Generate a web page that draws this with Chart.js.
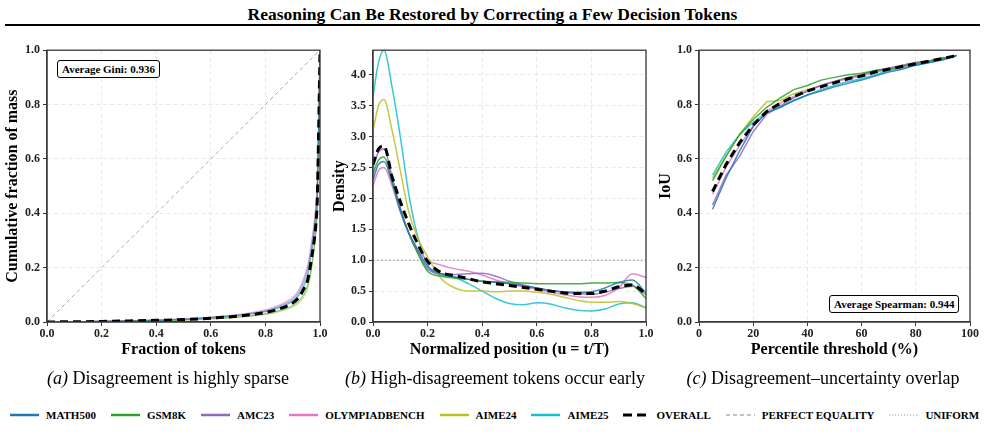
<!DOCTYPE html>
<html><head><meta charset="utf-8">
<script src="https://cdn.jsdelivr.net/npm/chart.js@4.4.1/dist/chart.umd.min.js"></script>
<style>
html,body{margin:0;padding:0;background:#fff;}
body{width:985px;height:448px;position:relative;overflow:hidden;font-family:'Liberation Serif','Times New Roman',serif;color:#000;}
#title{position:absolute;left:0;top:4px;width:985px;text-align:center;font-weight:bold;font-size:17.5px;line-height:20px;}
#rule{position:absolute;left:5px;top:24px;width:975px;height:2px;background:#000;}
canvas{position:absolute;}
.cap{position:absolute;top:368px;font-size:18px;line-height:21px;white-space:nowrap;transform:translateX(-50%);}
.cap i{font-style:italic;}
.box{position:absolute;border:1px solid #000;border-radius:3px;background:#fff;font-weight:bold;font-size:11px;line-height:14px;padding:1px 4px;white-space:nowrap;}
#legend{position:absolute;left:10px;top:407px;display:flex;align-items:center;white-space:nowrap;font-weight:bold;font-size:11px;line-height:16px;}
#legend .it{display:flex;align-items:center;margin-right:15px;}
#legend svg{margin-right:7px;}
</style></head>
<body>
<div id="title">Reasoning Can Be Restored by Correcting a Few Decision Tokens</div>
<div id="rule"></div>
<canvas id="cA" width="340" height="330" style="left:0;top:40px"></canvas>
<canvas id="cB" width="340" height="330" style="left:322px;top:40px"></canvas>
<canvas id="cC" width="335" height="330" style="left:650px;top:40px"></canvas>
<div class="box" style="left:57px;top:60px">Average Gini: 0.936</div>
<div class="box" style="left:829px;top:295px">Average Spearman: 0.944</div>
<div class="cap" style="left:168px"><i>(a)</i> Disagreement is highly sparse</div>
<div class="cap" style="left:495px"><i>(b)</i> High-disagreement tokens occur early</div>
<div class="cap" style="left:823px"><i>(c)</i> Disagreement–uncertainty overlap</div>
<div id="legend"></div>
<script>
// ---------- data ----------
const seriesNames = ['MATH500','GSM8K','AMC23','OLYMPIADBENCH','AIME24','AIME25'];
const seriesRGB = ['31,119,180','44,160,44','148,103,189','227,119,194','188,189,34','23,190,207'];
const overallName = 'OVERALL';
const equalityName = 'PERFECT EQUALITY';
const uniformName = 'UNIFORM';

// (a) Lorenz curves
const lorenzX = [0,0.1,0.2,0.3,0.4,0.5,0.6,0.7,0.8,0.85,0.9,0.92,0.94,0.955,0.97,0.98,0.985,0.99,0.995,1.0];
const lorenzMath500 = [0,0.001,0.002,0.004,0.006,0.010,0.015,0.024,0.038,0.052,0.076,0.095,0.13,0.17,0.26,0.33,0.38,0.46,0.71,1.0];
const lorenzGsm8k   = [0,0.001,0.002,0.003,0.005,0.008,0.012,0.019,0.030,0.042,0.060,0.075,0.10,0.135,0.21,0.29,0.34,0.43,0.68,1.0];
const lorenzAmc23   = [0,0.001,0.003,0.005,0.007,0.011,0.017,0.026,0.042,0.058,0.085,0.108,0.15,0.20,0.29,0.37,0.42,0.50,0.74,1.0];
const lorenzOlymp   = [0,0.001,0.003,0.005,0.008,0.012,0.018,0.028,0.045,0.062,0.092,0.115,0.16,0.21,0.30,0.38,0.43,0.52,0.75,1.0];
const lorenzAime24  = [0,0.001,0.002,0.003,0.005,0.007,0.011,0.017,0.028,0.038,0.055,0.068,0.092,0.125,0.20,0.28,0.33,0.42,0.67,1.0];
const lorenzAime25  = [0,0.001,0.002,0.004,0.007,0.010,0.016,0.025,0.040,0.055,0.080,0.100,0.14,0.185,0.275,0.35,0.40,0.48,0.72,1.0];
const lorenzOverall = [0,0.001,0.002,0.004,0.006,0.009,0.014,0.022,0.035,0.048,0.070,0.088,0.12,0.155,0.24,0.31,0.36,0.45,0.70,1.0];
const equalityX = [0,1];
const equalityY = [0,1];

// (b) position density
const densityX = [0,0.02,0.04,0.07,0.1,0.13,0.16,0.2,0.25,0.3,0.35,0.4,0.45,0.5,0.55,0.6,0.65,0.7,0.75,0.8,0.85,0.9,0.95,1.0];
const densMath500 = [2.3,2.55,2.6,2.25,1.8,1.45,1.2,0.9,0.78,0.73,0.69,0.66,0.64,0.62,0.59,0.55,0.51,0.49,0.48,0.49,0.55,0.64,0.68,0.47];
const densGsm8k   = [2.4,2.62,2.67,2.3,1.82,1.45,1.15,0.82,0.74,0.71,0.69,0.66,0.65,0.64,0.63,0.62,0.62,0.62,0.62,0.63,0.63,0.64,0.6,0.38];
const densAmc23   = [2.5,2.75,2.8,2.35,1.85,1.45,1.15,0.86,0.78,0.77,0.78,0.79,0.74,0.66,0.6,0.55,0.51,0.48,0.46,0.45,0.48,0.54,0.58,0.44];
const densOlymp   = [2.2,2.45,2.5,2.2,1.78,1.45,1.2,1.0,0.92,0.86,0.82,0.76,0.68,0.62,0.57,0.53,0.48,0.44,0.41,0.4,0.43,0.55,0.78,0.72];
const densAime24  = [3.1,3.5,3.6,3.1,2.45,1.8,1.4,1.05,0.7,0.55,0.5,0.5,0.49,0.5,0.5,0.48,0.45,0.4,0.35,0.32,0.32,0.33,0.3,0.23];
const densAime25  = [3.65,4.2,4.4,3.8,3.0,2.1,1.45,0.92,0.76,0.72,0.62,0.5,0.38,0.3,0.28,0.31,0.29,0.23,0.19,0.18,0.21,0.29,0.31,0.23];
const densOverall = [2.55,2.8,2.85,2.35,1.95,1.6,1.3,0.98,0.8,0.75,0.7,0.65,0.62,0.59,0.56,0.53,0.5,0.47,0.46,0.46,0.5,0.57,0.6,0.45];
const uniformX = [0,1];
const uniformY = [1,1];

// (c) IoU vs percentile threshold
const thresholdX = [5,10,15,20,25,30,35,40,45,50,55,60,65,70,75,80,85,90,95];
const iouMath500 = [0.415,0.53,0.63,0.72,0.77,0.79,0.815,0.835,0.85,0.865,0.878,0.89,0.905,0.92,0.93,0.945,0.955,0.965,0.98];
const iouGsm8k   = [0.52,0.61,0.69,0.745,0.79,0.825,0.855,0.87,0.89,0.9,0.91,0.915,0.925,0.93,0.94,0.95,0.96,0.97,0.98];
const iouAmc23   = [0.43,0.54,0.61,0.70,0.765,0.795,0.825,0.85,0.87,0.885,0.9,0.91,0.925,0.935,0.945,0.955,0.96,0.97,0.98];
const iouOlymp   = [0.47,0.57,0.65,0.72,0.775,0.805,0.83,0.85,0.87,0.885,0.895,0.905,0.92,0.93,0.94,0.95,0.96,0.97,0.98];
const iouAime24  = [0.53,0.61,0.69,0.755,0.81,0.815,0.84,0.855,0.87,0.885,0.9,0.91,0.92,0.93,0.945,0.955,0.96,0.97,0.98];
const iouAime25  = [0.54,0.625,0.69,0.735,0.77,0.79,0.815,0.835,0.855,0.87,0.885,0.895,0.91,0.925,0.935,0.945,0.955,0.965,0.98];
const iouOverall = [0.48,0.58,0.66,0.725,0.775,0.805,0.83,0.85,0.865,0.88,0.895,0.905,0.92,0.93,0.94,0.95,0.96,0.97,0.98];

// tick labels
const ticksUnit = [0,0.2,0.4,0.6,0.8,1.0];
const ticksDensity = [0,0.5,1.0,1.5,2.0,2.5,3.0,3.5,4.0];
const ticksPercent = [0,20,40,60,80,100];

// ---------- chart setup ----------
Chart.defaults.font.family = "'Liberation Serif','Times New Roman',serif";
Chart.defaults.color = '#222';

const pts = (xs, ys) => xs.map((x, i) => ({x, y: ys[i]}));
const frame = {
  id: 'frame',
  afterDraw(chart) {
    const a = chart.chartArea, c = chart.ctx;
    c.save(); c.strokeStyle = '#3a3a3a'; c.lineWidth = 1.3;
    c.strokeRect(a.left, a.top, a.right - a.left, a.bottom - a.top);
    c.restore();
  }
};

function axis(min, max, ticks, fmt, title, isY, yWidth, xHeight, titlePad) {
  return {
    type: 'linear', min, max,
    afterBuildTicks: s => { s.ticks = ticks.map(v => ({value: v})); },
    afterFit: s => { if (isY) s.width = yWidth; else s.height = xHeight; },
    grid: {color: '#e3e3e3', lineWidth: 0.8, tickColor: '#333', tickLength: 4, tickWidth: 1},
    border: {color: '#3a3a3a', width: 1.3, dash: [4, 3]},
    ticks: {font: {size: 12, weight: 'bold'}, color: '#222', padding: isY ? 3 : 1, maxRotation: 0, autoSkip: false,
            callback: v => fmt(v)},
    title: {display: true, text: title, font: {size: 16, weight: 'bold'}, color: '#000', padding: titlePad}
  };
}

function baseOpts(padding, scales) {
  return {
    responsive: false, animation: false, devicePixelRatio: 1,
    layout: {padding},
    plugins: {legend: {display: false}, tooltip: {enabled: false}},
    elements: {point: {radius: 0}},
    scales
  };
}

function seriesSets(xs, arrs, width, alpha, interp) {
  return arrs.map((ys, i) => ({
    label: seriesNames[i], data: pts(xs, ys),
    borderColor: 'rgba(' + seriesRGB[i] + ',' + alpha + ')', borderWidth: width,
    cubicInterpolationMode: interp ? 'monotone' : 'default', tension: 0, order: 2, fill: false
  }));
}
function overallSet(xs, ys, interp) {
  return {label: overallName, data: pts(xs, ys), borderColor: '#000', borderWidth: 3, borderDash: [8, 5],
          cubicInterpolationMode: interp ? 'monotone' : 'default', tension: 0, order: 0, fill: false};
}
const f1 = v => Number(v).toFixed(1);
const f0 = v => String(Math.round(v));

// (a)
new Chart(document.getElementById('cA'), {
  type: 'line',
  data: {datasets: [
    overallSet(lorenzX, lorenzOverall, true),
    ...seriesSets(lorenzX, [lorenzMath500, lorenzGsm8k, lorenzAmc23, lorenzOlymp, lorenzAime24, lorenzAime25], 1.2, 0.55, true),
    {label: equalityName, data: pts(equalityX, equalityY), borderColor: '#aaaaaa', borderWidth: 1, borderDash: [4, 3], order: 5}
  ]},
  options: baseOpts({top: 10, right: 20, left: 0, bottom: 0}, {
    x: axis(0, 1, ticksUnit, f1, 'Fraction of tokens', false, 0, 48, {top: 0, bottom: 11}),
    y: axis(0, 1, ticksUnit, f1, 'Cumulative fraction of mass', true, 47, 0, {top: 3, bottom: 0})
  }),
  plugins: [frame]
});

// (b)
new Chart(document.getElementById('cB'), {
  type: 'line',
  data: {datasets: [
    overallSet(densityX, densOverall, true),
    ...seriesSets(densityX, [densMath500, densGsm8k, densAmc23, densOlymp, densAime24, densAime25], 1.5, 0.85, true),
    {label: uniformName, data: pts(uniformX, uniformY), borderColor: '#888888', borderWidth: 1.2, borderDash: [1.5, 2.5], order: 5}
  ]},
  options: baseOpts({top: 9, right: 16, left: 0, bottom: 0}, {
    x: axis(0, 1, ticksUnit, f1, 'Normalized position (u = t/T)', false, 0, 48, {top: 0, bottom: 11}),
    y: axis(0, 4.4, ticksDensity, f1, 'Density', true, 51, 0, {top: 8, bottom: 0})
  }),
  plugins: [frame]
});

// (c)
new Chart(document.getElementById('cC'), {
  type: 'line',
  data: {datasets: [
    overallSet(thresholdX, iouOverall, false),
    ...seriesSets(thresholdX, [iouMath500, iouGsm8k, iouAmc23, iouOlymp, iouAime24, iouAime25], 1.5, 0.85, false)
  ]},
  options: baseOpts({top: 10, right: 15, left: 0, bottom: 0}, {
    x: axis(0, 100, ticksPercent, f0, 'Percentile threshold (%)', false, 0, 48, {top: 0, bottom: 11}),
    y: axis(0, 1, ticksUnit, f1, 'IoU', true, 49, 0, {top: 6, bottom: 0})
  }),
  plugins: [frame]
});

// ---------- HTML legend ----------
const legendItems = seriesNames.map((n, i) => ({name: n, stroke: 'rgb(' + seriesRGB[i] + ')', w: 2.5, dash: ''}))
  .concat([
    {name: overallName, stroke: '#000', w: 3, dash: '9,5'},
    {name: equalityName, stroke: '#888', w: 1.2, dash: '4,3'},
    {name: uniformName, stroke: '#999', w: 1.2, dash: '1.2,1.8'}
  ]);
const lg = document.getElementById('legend');
legendItems.forEach(it => {
  const d = document.createElement('div'); d.className = 'it';
  const lw = it.name === overallName ? 26 : 29;
  d.innerHTML = '<svg width="' + lw + '" height="6"><line x1="0" y1="3" x2="' + lw + '" y2="3" stroke="' + it.stroke +
    '" stroke-width="' + it.w + '"' + (it.dash ? ' stroke-dasharray="' + it.dash + '"' : '') + '/></svg><span>' + it.name + '</span>';
  lg.appendChild(d);
});
</script>
</body></html>
